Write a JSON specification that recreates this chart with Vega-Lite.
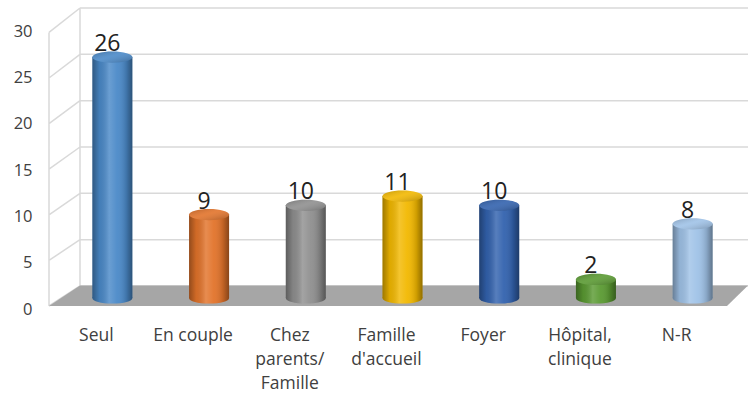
{
  "$schema": "https://vega.github.io/schema/vega-lite/v6.json",
  "autosize": {"type": "none"},
  "padding": {"left": 80, "top": 20, "right": 0, "bottom": 102},
  "width": 668,
  "height": 278,
  "background": "white",
  "config": {"view": {"stroke": null}},
  "data": {"values": [
    {"cat": "Seul", "n": 26},
    {"cat": "En couple", "n": 9},
    {"cat": "Chez parents/ Famille", "n": 10},
    {"cat": "Famille d'accueil", "n": 11},
    {"cat": "Foyer", "n": 10},
    {"cat": "Hôpital, clinique", "n": 2},
    {"cat": "N-R", "n": 8}
  ]},
  "layer": [
    {
      "data": {"values": [{"v": 0}, {"v": 5}, {"v": 10}, {"v": 15}, {"v": 20}, {"v": 25}, {"v": 30}]},
      "mark": {"type": "rule", "color": "#d9d9d9", "strokeWidth": 1.5, "yOffset": -12},
      "encoding": {"y": {"field": "v", "type": "quantitative", "title": null}}
    },
    {
      "data": {"values": [{"k": "wall"}]},
      "mark": {"type": "point", "shape": "M-0.6336,0.08L-0.6336,-2.656M-0.3236,-0.12L-0.3236,-2.90M-0.6336,0.08L-0.3236,-0.12M-0.6336,-0.376L-0.3236,-0.5833M-0.6336,-0.832L-0.3236,-1.0467M-0.6336,-1.288L-0.3236,-1.51M-0.6336,-1.744L-0.3236,-1.9733M-0.6336,-2.2L-0.3236,-2.4367M-0.6336,-2.656L-0.3236,-2.90", "size": 40000, "filled": false, "stroke": "#d9d9d9", "strokeWidth": 1.5, "opacity": 1},
      "encoding": {"x": {"datum": "Seul", "type": "nominal"}, "y": {"datum": 0, "type": "quantitative"}}
    },
    {
      "data": {"values": [{"k": "floor"}]},
      "mark": {"type": "point", "shape": "M-0.6336,0.08L6.1464,0.08L6.3564,-0.125L-0.3236,-0.125Z", "size": 40000, "filled": true, "color": "#a6a6a6", "strokeWidth": 0, "opacity": 1},
      "encoding": {"x": {"datum": "Seul", "type": "nominal"}, "y": {"datum": 0, "type": "quantitative"}}
    },
    {
      "mark": {"type": "point", "shape": "M-1,0A1,0.28 0 1,0 1,0A1,0.28 0 1,0 -1,0Z", "size": 1600, "filled": true, "opacity": 1, "strokeWidth": 0},
      "encoding": {
        "x": {"field": "cat", "type": "nominal"},
        "y": {"datum": 0, "type": "quantitative"},
        "color": {"field": "cat", "type": "nominal", "legend": null}
      }
    },
    {
      "mark": {"type": "point", "shape": "M-1,0A1,0.28 0 1,0 1,0A1,0.28 0 1,0 -1,0Z", "size": 1600, "filled": true, "opacity": 1, "strokeWidth": 0,
        "fill": {"gradient": "linear", "x1": 0, "y1": 0, "x2": 1, "y2": 0, "stops": [
          {"offset": 0, "color": "rgba(0,0,0,0.35)"},
          {"offset": 0.18, "color": "rgba(0,0,0,0.08)"},
          {"offset": 0.42, "color": "rgba(255,255,255,0.18)"},
          {"offset": 0.62, "color": "rgba(255,255,255,0.05)"},
          {"offset": 0.85, "color": "rgba(0,0,0,0.15)"},
          {"offset": 1, "color": "rgba(0,0,0,0.4)"}]}},
      "encoding": {
        "x": {"field": "cat", "type": "nominal"},
        "y": {"datum": 0, "type": "quantitative"}
      }
    },
    {
      "mark": {"type": "bar", "width": {"band": 0.4136}},
      "encoding": {
        "x": {"field": "cat", "type": "nominal",
          "scale": {"domain": ["Seul", "En couple", "Chez parents/ Famille", "Famille d'accueil", "Foyer", "Hôpital, clinique", "N-R"], "range": [-16, 661], "paddingInner": 0, "paddingOuter": 0},
          "axis": {"title": null, "domain": false, "ticks": false, "tickSize": 0, "grid": false, "labelAngle": 0, "labelAlign": "center", "labelOffset": -16, "labelPadding": 28, "labelFont": "Open Sans", "labelFontSize": 17.5, "labelColor": "#404040", "labelLineHeight": 24, "labelOverlap": false, "labelBound": false, "labelFlush": false, "labelBaseline": "top",
            "labelExpr": "datum.value == 'En couple' ? datum.value : split(datum.value, ' ')"}},
        "y": {"field": "n", "type": "quantitative",
          "scale": {"domain": [0, 30], "nice": false},
          "axis": {"title": null, "values": [0, 5, 10, 15, 20, 25, 30], "offset": 30, "domain": false, "ticks": false, "tickSize": 0, "grid": false, "labelPadding": 18, "labelFont": "Open Sans", "labelFontSize": 16.5, "labelColor": "#404040", "labelOffset": 11}},
        "color": {"field": "cat", "type": "nominal", "legend": null,
          "scale": {"domain": ["Seul", "En couple", "Chez parents/ Famille", "Famille d'accueil", "Foyer", "Hôpital, clinique", "N-R"], "range": ["#4a89c8", "#e2732a", "#8f8f8f", "#f2b800", "#3262ae", "#5a9a32", "#9fc2e7"]}}
      }
    },
    {
      "mark": {"type": "bar", "width": {"band": 0.4136},
        "fill": {"gradient": "linear", "x1": 0, "y1": 0, "x2": 1, "y2": 0, "stops": [
          {"offset": 0, "color": "rgba(0,0,0,0.35)"},
          {"offset": 0.18, "color": "rgba(0,0,0,0.08)"},
          {"offset": 0.42, "color": "rgba(255,255,255,0.18)"},
          {"offset": 0.62, "color": "rgba(255,255,255,0.05)"},
          {"offset": 0.85, "color": "rgba(0,0,0,0.15)"},
          {"offset": 1, "color": "rgba(0,0,0,0.4)"}]}},
      "encoding": {
        "x": {"field": "cat", "type": "nominal"},
        "y": {"field": "n", "type": "quantitative"}
      }
    },
    {
      "mark": {"type": "point", "shape": "M-1,0A1,0.28 0 1,0 1,0A1,0.28 0 1,0 -1,0Z", "size": 1600, "filled": true, "opacity": 1, "strokeWidth": 0},
      "encoding": {
        "x": {"field": "cat", "type": "nominal"},
        "y": {"field": "n", "type": "quantitative"},
        "color": {"field": "cat", "type": "nominal", "legend": null}
      }
    },
    {
      "mark": {"type": "point", "shape": "M-1,0A1,0.28 0 1,0 1,0A1,0.28 0 1,0 -1,0Z", "size": 1600, "filled": true, "opacity": 1, "strokeWidth": 0,
        "fill": {"gradient": "linear", "x1": 0, "y1": 0, "x2": 1, "y2": 1, "stops": [
          {"offset": 0, "color": "rgba(0,0,0,0.22)"},
          {"offset": 0.45, "color": "rgba(255,255,255,0.1)"},
          {"offset": 1, "color": "rgba(0,0,0,0.25)"}]}},
      "encoding": {
        "x": {"field": "cat", "type": "nominal"},
        "y": {"field": "n", "type": "quantitative"}
      }
    },
    {
      "mark": {"type": "text", "dx": -5, "dy": -6, "baseline": "alphabetic", "font": "Open Sans", "fontSize": 23, "color": "#222222"},
      "encoding": {
        "x": {"field": "cat", "type": "nominal"},
        "y": {"field": "n", "type": "quantitative"},
        "text": {"field": "n", "type": "quantitative"}
      }
    }
  ]
}
